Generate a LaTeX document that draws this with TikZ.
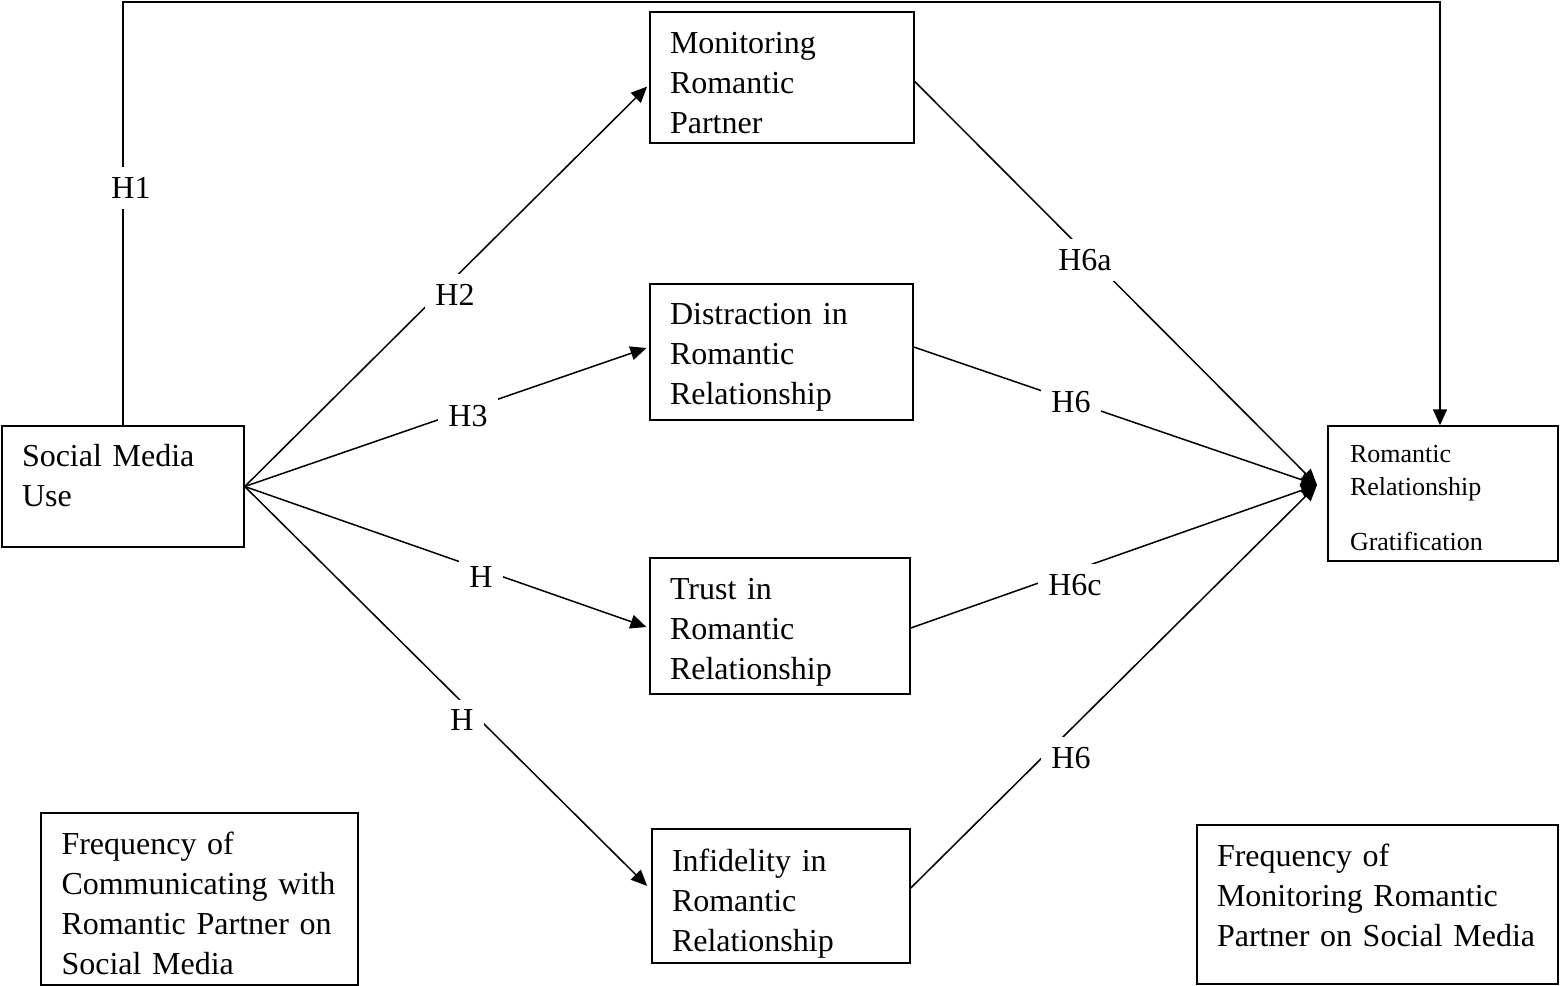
\documentclass[tikz,border=0pt]{standalone}
\usepackage{fontspec}
\setmainfont{Liberation Serif}
\usetikzlibrary{arrows.meta,calc}
\newcommand{\topstrut}[1]{\rule{0pt}{#1}}
\newcommand{\botstrut}[1]{\rule[-#1]{0pt}{#1}}
\begin{document}
\begin{tikzpicture}[x=0.5pt,y=-0.5pt,
  every node/.style={font=\fontsize{16}{20}\selectfont},
  box/.style={draw,line width=0.75pt,align=left,inner xsep=10pt,inner ysep=0pt},
  conn/.style={line width=0.75pt},
  arr/.style={conn,-{Triangle[length=8pt,width=7pt]}},
  lab/.style={fill=white,inner sep=5pt}]
\useasboundingbox (0,0) rectangle (1560,986);
% boxes
\node[box,minimum width=132pt,minimum height=65.5pt,text width=112pt] (mon) at (782,77.5) {\topstrut{15.9pt}Monitoring\\Romantic\\Partner};
\node[box,minimum width=131.5pt,minimum height=68pt,text width=111.5pt] (dis) at (781.5,352) {\topstrut{15.9pt}Distraction in\\Romantic\\Relationship};
\node[box,minimum width=130pt,minimum height=68pt,text width=110pt] (tru) at (780,626) {\topstrut{16.9pt}Trust in\\Romantic\\Relationship};
\node[box,minimum width=129pt,minimum height=67pt,text width=109pt] (inf) at (781,896) {\topstrut{18.9pt}Infidelity in\\Romantic\\Relationship};
\node[box,minimum width=121pt,minimum height=60.5pt,text width=101pt] (smu) at (123,486.5) {\topstrut{19.9pt}Social Media\\Use\\\mbox{}};
\node[box,minimum width=115pt,minimum height=67.5pt,text width=93pt,inner xsep=11pt,font=\fontsize{13}{16.5}\selectfont] (rrg) at (1443,493.5) {\topstrut{12.9pt}Romantic\\Relationship\\[11pt]Gratification};
\node[box,minimum width=158.5pt,minimum height=86pt,text width=138pt,inner xsep=10.25pt] (fcm) at (199.5,899) {\topstrut{15.9pt}Frequency of\\Communicating with\\Romantic Partner on\\Social Media};
\node[box,minimum width=180.5pt,minimum height=79.5pt,text width=160.5pt] (fmo) at (1377.5,904.5) {Frequency of\\Monitoring Romantic\\Partner on Social Media\botstrut{9pt}};
% coordinates
\coordinate (top) at (780,2);
\coordinate (conv) at (1317,485);
% connectors
\draw[arr] (smu.north) |- (top) -| ($(rrg.north)+(-3,0)$);
\draw[arr,shorten >=1.5pt] (smu.east) -- ($(mon.west)+(0,7)$);
\draw[arr,shorten >=1.5pt] (smu.east) -- ($(dis.west)+(0,-5)$);
\draw[arr,shorten >=1.5pt] (smu.east) -- ($(tru.west)+(0,2)$);
\draw[arr,shorten >=1.5pt] (smu.east) -- ($(inf.west)+(-2,-8)$);
\draw[arr] ($(mon.east)+(0,4)$) -- (conv);
\draw[arr] ($(dis.east)+(0,-5)$) -- (conv);
\draw[arr] ($(tru.east)+(0,2)$) -- (conv);
\draw[arr] ($(inf.east)+(0,-8)$) -- (conv);
% labels
\node[lab] (l1) at (131,188) {H1};
\node[lab] (l2) at (455,295) {H2};
\node[lab] (l3) at (468,416) {H3};
\node[lab] (l4) at (481,577) {H};
\node[lab] (l5) at (462,720) {H};
\node[lab] (l6a) at (1085,260) {H6a};
\node[lab] (l6b) at (1071,402) {H6};
\node[lab] (l6c) at (1075,585) {H6c};
\node[lab] (l6d) at (1071,758) {H6};
\end{tikzpicture}
\end{document}
